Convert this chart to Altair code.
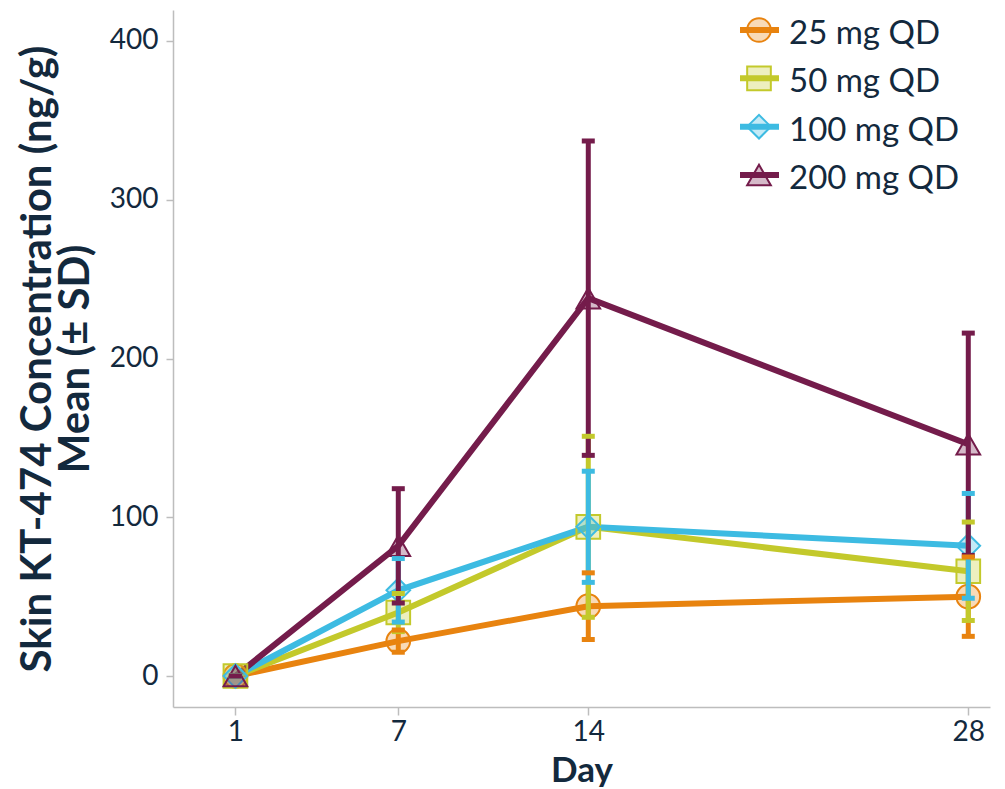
import altair as alt
import pandas as pd

days = [1, 7, 14, 28]
doses = ["25 mg QD", "50 mg QD", "100 mg QD", "200 mg QD"]
colors = ["#E8830F", "#C3C92B", "#3DBBE2", "#741C4B"]
shapes = ["circle", "square", "diamond", "triangle-up"]

mean_25 = [0, 22, 44, 50]
sd_25 = [0, 7, 21, 25]
mean_50 = [0, 40, 94, 66]
sd_50 = [0, 12, 57, 31]
mean_100 = [0, 54, 94, 82]
sd_100 = [0, 20, 35, 33]
mean_200 = [0, 82, 238, 146]
sd_200 = [0, 36, 99, 70]

means = [mean_25, mean_50, mean_100, mean_200]
sds = [sd_25, sd_50, sd_100, sd_200]

rows = []
for i, dose in enumerate(doses):
    for d, m, s in zip(days, means[i], sds[i]):
        rows.append({"day": d, "dose": dose, "order": i, "mean": m,
                     "lo": m - s, "hi": m + s})
df = pd.DataFrame(rows)
leg = pd.DataFrame({"dose": doses, "order": list(range(4))})

FONT = "Lato"
TXT = "#13293D"

color = alt.Color("dose:N", scale=alt.Scale(domain=doses, range=colors), legend=None)
shape = alt.Shape("dose:N", scale=alt.Scale(domain=doses, range=shapes), legend=None)
stroke = alt.Stroke("dose:N", scale=alt.Scale(domain=doses, range=colors), legend=None)
msize = alt.Size("dose:N", scale=alt.Scale(domain=doses, range=[560, 560, 640, 950]), legend=None)

x = alt.X("day:Q", scale=alt.Scale(domain=[-1.3, 28.8], nice=False, zero=False),
          axis=alt.Axis(values=days, title="Day"))
y = alt.Y("mean:Q", scale=alt.Scale(domain=[-19.5, 419.5], nice=False, zero=False),
          axis=alt.Axis(values=[0, 100, 200, 300, 400],
                        title=["Skin KT-474 Concentration (ng/g)", "Mean (± SD)"]))

base = alt.Chart(df)

lines = base.mark_line(strokeWidth=6).encode(x=x, y=y, color=color, detail="dose:N",
                                              order="day:Q")
points = base.mark_point(filled=True, fillOpacity=0.3, strokeWidth=2, opacity=1).encode(
    x=x, y=y, color=color, shape=shape, stroke=stroke, size=msize)
bars = base.mark_rule(strokeWidth=5).encode(x=x, y=alt.Y("lo:Q"), y2="hi:Q", color=color)
cap_lo = base.mark_tick(orient="horizontal", size=13, thickness=5, opacity=1).encode(
    x=x, y=alt.Y("lo:Q"), color=color)
cap_hi = base.mark_tick(orient="horizontal", size=13, thickness=5, opacity=1).encode(
    x=x, y=alt.Y("hi:Q"), color=color)

main = alt.layer(lines, points, bars, cap_lo, cap_hi)

ly = alt.Y("dose:N", sort=doses, scale=alt.Scale(type="point", range=[20, 165], padding=0),
           axis=None)
lbase = alt.Chart(leg)
l_rule = lbase.mark_rule(strokeWidth=6).encode(x=alt.value(567), x2=alt.value(606), y=ly,
                                               color=color)
l_pt = lbase.mark_point(filled=True, fillOpacity=0.3, strokeWidth=2, opacity=1).encode(
    x=alt.value(586), y=ly, color=color, shape=shape, stroke=stroke, size=msize)
l_txt = lbase.mark_text(align="left", baseline="middle", fontSize=33, font=FONT, color=TXT,
                        dy=4).encode(x=alt.value(616), y=ly, text="dose:N")
legend = alt.layer(l_rule, l_pt, l_txt)

chart = alt.layer(main, legend).resolve_scale(y="independent").properties(
    width=817, height=697,
    autosize=alt.AutoSizeParams(type="none"),
    padding={"left": 165, "top": 2, "right": 7, "bottom": 80},
).configure_view(stroke=None).configure_axis(
    grid=False, domainColor="#BDBDBD", domainWidth=1.5, tickColor="#BDBDBD", tickWidth=1.5,
    labelFont=FONT, labelFontSize=28, labelColor=TXT,
    titleFont=FONT, titleFontWeight="bold", titleColor=TXT,
).configure_axisY(titlePadding=12, titleLineHeight=38, titleFontSize=42, tickSize=7,
                  labelPadding=8).configure_axisX(titlePadding=7, titleFontSize=35, tickSize=8,
                                                   labelPadding=3)

chart.save("out.html", embed_options={"renderer": "svg", "actions": False})
